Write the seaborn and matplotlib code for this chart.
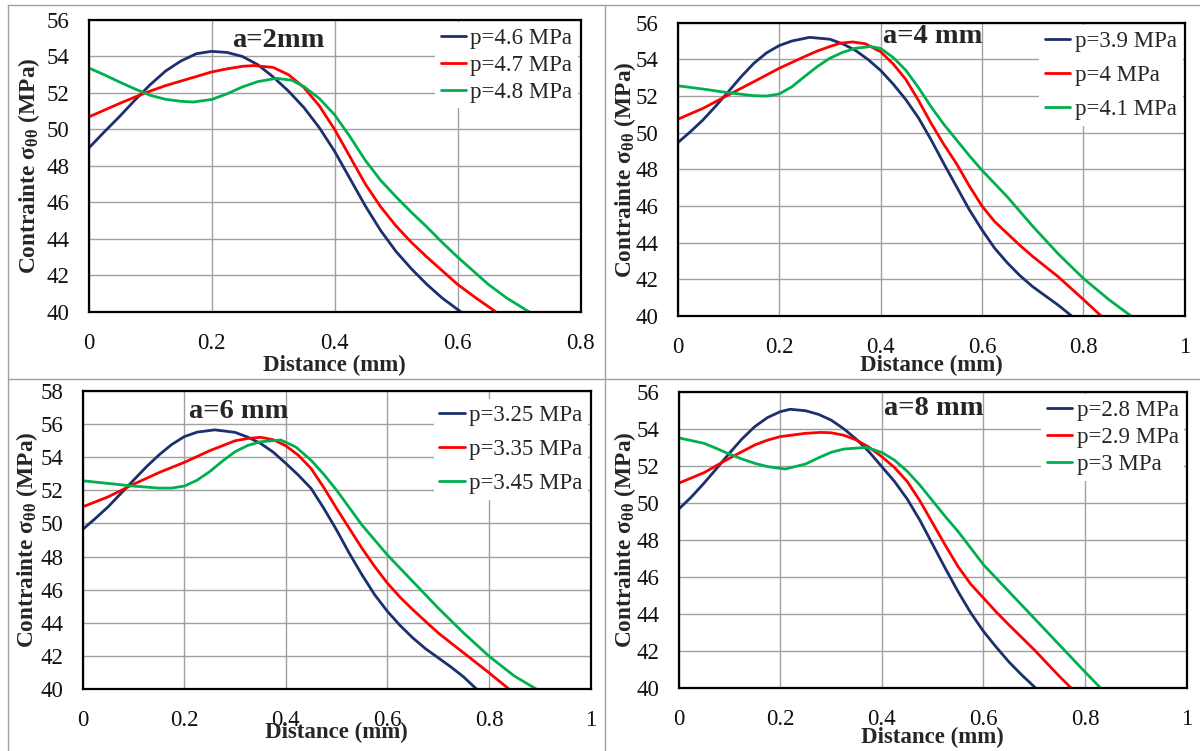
import matplotlib
matplotlib.use("Agg")
import matplotlib.pyplot as plt
import seaborn as sns
import pandas as pd
from matplotlib.lines import Line2D

# ---- data (distance in mm, stress in MPa) ----
# a = 2 mm
x_a2_p46 = [0, 0.025, 0.05, 0.075, 0.1, 0.125, 0.15, 0.175, 0.2, 0.225, 0.25, 0.275, 0.3,
            0.325, 0.35, 0.375, 0.4, 0.425, 0.45, 0.475, 0.5, 0.525, 0.55, 0.575, 0.605]
y_a2_p46 = [48.97, 49.85, 50.7, 51.6, 52.45, 53.2, 53.75, 54.15, 54.28, 54.22, 54.0, 53.55, 52.88,
            52.1, 51.2, 50.1, 48.8, 47.3, 45.8, 44.45, 43.3, 42.35, 41.5, 40.75, 40.0]
x_a2_p47 = [0, 0.025, 0.05, 0.075, 0.1, 0.125, 0.15, 0.175, 0.2, 0.225, 0.25, 0.268, 0.3, 0.325,
            0.35, 0.375, 0.4, 0.425, 0.45, 0.475, 0.5, 0.525, 0.55, 0.575, 0.6, 0.63, 0.662]
y_a2_p47 = [50.68, 51.05, 51.42, 51.77, 52.1, 52.4, 52.65, 52.9, 53.15, 53.32, 53.46, 53.5, 53.4, 53.0,
            52.3, 51.3, 50.0, 48.5, 47.0, 45.75, 44.7, 43.8, 43.0, 42.25, 41.5, 40.75, 40.0]
x_a2_p48 = [0, 0.025, 0.05, 0.075, 0.1, 0.125, 0.15, 0.17, 0.2, 0.225, 0.25, 0.275, 0.305, 0.33,
            0.35, 0.375, 0.4, 0.425, 0.45, 0.475, 0.5, 0.525, 0.55, 0.575, 0.6, 0.625, 0.65, 0.68, 0.716]
y_a2_p48 = [53.37, 53.0, 52.6, 52.22, 51.87, 51.65, 51.54, 51.5, 51.64, 51.95, 52.33, 52.62, 52.8, 52.7,
            52.35, 51.7, 50.8, 49.6, 48.3, 47.2, 46.3, 45.45, 44.65, 43.8, 43.0, 42.25, 41.5, 40.75, 40.0]

# a = 4 mm
x_a4_p39 = [0, 0.025, 0.05, 0.075, 0.1, 0.125, 0.15, 0.175, 0.2, 0.225, 0.26, 0.3, 0.325, 0.35,
            0.375, 0.4, 0.425, 0.45, 0.475, 0.5, 0.525, 0.55, 0.575, 0.6, 0.625, 0.65, 0.675, 0.7,
            0.725, 0.75, 0.777]
y_a4_p39 = [49.45, 50.05, 50.7, 51.45, 52.24, 53.05, 53.78, 54.35, 54.75, 55.0, 55.2, 55.1, 54.85, 54.5,
            54.0, 53.4, 52.65, 51.8, 50.8, 49.6, 48.3, 47.05, 45.8, 44.7, 43.7, 42.9, 42.2, 41.6,
            41.1, 40.6, 40.0]
x_a4_p40 = [0, 0.05, 0.1, 0.15, 0.2, 0.25, 0.275, 0.3, 0.32, 0.345, 0.37, 0.4, 0.425, 0.45, 0.475,
            0.5, 0.525, 0.55, 0.575, 0.6, 0.625, 0.65, 0.675, 0.7, 0.75, 0.8, 0.835]
y_a4_p40 = [50.73, 51.33, 52.06, 52.78, 53.51, 54.15, 54.45, 54.7, 54.88, 54.95, 54.85, 54.42, 53.75, 52.9, 51.75,
            50.5, 49.35, 48.3, 47.1, 46.0, 45.15, 44.5, 43.85, 43.25, 42.15, 40.9, 40.0]
x_a4_p41 = [0, 0.05, 0.1, 0.15, 0.175, 0.2, 0.225, 0.25, 0.275, 0.3, 0.325, 0.35, 0.38, 0.4, 0.425,
            0.45, 0.475, 0.5, 0.525, 0.55, 0.575, 0.6, 0.65, 0.7, 0.75, 0.8, 0.85, 0.894]
y_a4_p41 = [52.56, 52.38, 52.18, 52.02, 52.0, 52.11, 52.5, 53.06, 53.6, 54.06, 54.38, 54.6, 54.7, 54.6, 54.1,
            53.4, 52.45, 51.4, 50.45, 49.6, 48.75, 47.95, 46.5, 44.9, 43.4, 42.05, 40.9, 40.0]

# a = 6 mm
x_a6_p325 = [0, 0.025, 0.05, 0.075, 0.1, 0.125, 0.15, 0.175, 0.2, 0.225, 0.26, 0.3, 0.325, 0.35,
             0.375, 0.4, 0.425, 0.45, 0.475, 0.5, 0.525, 0.55, 0.575, 0.6, 0.625, 0.65, 0.675, 0.7,
             0.725, 0.75, 0.776]
y_a6_p325 = [49.64, 50.3, 51.0, 51.8, 52.6, 53.4, 54.12, 54.75, 55.23, 55.5, 55.64, 55.49, 55.2, 54.83,
             54.3, 53.62, 52.9, 52.1, 50.9, 49.6, 48.2, 46.9, 45.7, 44.7, 43.85, 43.1, 42.45, 41.9,
             41.35, 40.75, 40.0]
x_a6_p335 = [0, 0.05, 0.1, 0.15, 0.2, 0.25, 0.3, 0.325, 0.35, 0.375, 0.4, 0.425, 0.45, 0.475, 0.5,
             0.525, 0.55, 0.575, 0.6, 0.625, 0.65, 0.7, 0.75, 0.8, 0.84]
y_a6_p335 = [51.0, 51.6, 52.36, 53.06, 53.68, 54.38, 54.98, 55.12, 55.19, 55.05, 54.68, 54.1, 53.3, 52.15, 50.9,
             49.7, 48.5, 47.4, 46.4, 45.55, 44.8, 43.4, 42.2, 41.0, 40.0]
x_a6_p345 = [0, 0.05, 0.1, 0.15, 0.175, 0.2, 0.225, 0.25, 0.275, 0.3, 0.325, 0.35, 0.39, 0.42, 0.45,
             0.475, 0.5, 0.525, 0.55, 0.575, 0.6, 0.65, 0.7, 0.75, 0.8, 0.85, 0.894]
y_a6_p345 = [52.57, 52.41, 52.25, 52.13, 52.13, 52.25, 52.6, 53.12, 53.75, 54.32, 54.7, 54.92, 55.03, 54.6, 53.8,
             52.95, 52.0, 50.95, 49.9, 49.0, 48.1, 46.5, 44.9, 43.4, 42.0, 40.8, 40.0]

# a = 8 mm
x_a8_p28 = [0, 0.025, 0.05, 0.075, 0.1, 0.125, 0.15, 0.175, 0.2, 0.22, 0.25, 0.275, 0.3, 0.325,
            0.35, 0.375, 0.4, 0.425, 0.45, 0.475, 0.5, 0.525, 0.55, 0.575, 0.6, 0.625, 0.65, 0.675, 0.702]
y_a8_p28 = [49.64, 50.3, 51.05, 51.85, 52.67, 53.45, 54.11, 54.6, 54.92, 55.05, 54.97, 54.78, 54.47, 54.0,
            53.43, 52.75, 51.95, 51.15, 50.2, 49.05, 47.75, 46.45, 45.2, 44.05, 43.05, 42.2, 41.4, 40.7, 40.0]
x_a8_p29 = [0, 0.05, 0.1, 0.15, 0.175, 0.2, 0.25, 0.28, 0.3, 0.325, 0.35, 0.375, 0.4, 0.425, 0.45,
            0.475, 0.5, 0.525, 0.55, 0.575, 0.6, 0.625, 0.65, 0.7, 0.75, 0.772]
y_a8_p29 = [51.05, 51.62, 52.4, 53.12, 53.38, 53.57, 53.75, 53.8, 53.78, 53.65, 53.39, 53.0, 52.49, 51.9, 51.15,
            50.1, 48.9, 47.7, 46.55, 45.6, 44.85, 44.1, 43.4, 42.05, 40.6, 40.0]
x_a8_p30 = [0, 0.05, 0.075, 0.1, 0.125, 0.15, 0.175, 0.21, 0.25, 0.275, 0.3, 0.325, 0.37, 0.4, 0.425,
            0.45, 0.475, 0.5, 0.525, 0.55, 0.575, 0.6, 0.65, 0.7, 0.75, 0.8, 0.83]
y_a8_p30 = [53.51, 53.21, 52.93, 52.63, 52.36, 52.13, 51.95, 51.82, 52.09, 52.42, 52.72, 52.9, 52.99, 52.72, 52.3,
            51.7, 50.95, 50.1, 49.25, 48.45, 47.55, 46.65, 45.2, 43.75, 42.3, 40.85, 40.0]

colors = ["#1c2f6e", "#ff0000", "#00b050"]

panels = [
    {"title": "a=2mm", "labels": ["p=4.6 MPa", "p=4.7 MPa", "p=4.8 MPa"],
     "series": [(x_a2_p46, y_a2_p46), (x_a2_p47, y_a2_p47), (x_a2_p48, y_a2_p48)],
     "xmax": 0.8, "ymax": 56, "title_xy": (0.309, 54.9),
     "rect": (88.7, 20, 580.5, 311.7), "ylab_x": -0.122, "xlab_y": -0.183,
     "lspace": 0.25, "leg_top": 1.0},
    {"title": "a=4 mm", "labels": ["p=3.9 MPa", "p=4 MPa", "p=4.1 MPa"],
     "series": [(x_a4_p39, y_a4_p39), (x_a4_p40, y_a4_p40), (x_a4_p41, y_a4_p41)],
     "xmax": 1.0, "ymax": 56, "title_xy": (0.503, 55.24),
     "rect": (677.7, 22.7, 1184.8, 316), "ylab_x": -0.104, "xlab_y": -0.167,
     "lspace": 0.57, "leg_top": 1.0},
    {"title": "a=6 mm", "labels": ["p=3.25 MPa", "p=3.35 MPa", "p=3.45 MPa"],
     "series": [(x_a6_p325, y_a6_p325), (x_a6_p335, y_a6_p335), (x_a6_p345, y_a6_p345)],
     "xmax": 1.0, "ymax": 58, "title_xy": (0.308, 56.73),
     "rect": (82.7, 390.7, 590.5, 689.3), "ylab_x": -0.110, "xlab_y": -0.146,
     "lspace": 0.57, "leg_top": 0.98},
    {"title": "a=8 mm", "labels": ["p=2.8 MPa", "p=2.9 MPa", "p=3 MPa"],
     "series": [(x_a8_p28, y_a8_p28), (x_a8_p29, y_a8_p29), (x_a8_p30, y_a8_p30)],
     "xmax": 1.0, "ymax": 56, "title_xy": (0.503, 55.1),
     "rect": (678.5, 391.7, 1186.7, 687.7), "ylab_x": -0.105, "xlab_y": -0.167,
     "lspace": 0.27, "leg_top": 1.0},
]

sns.set_theme(style="whitegrid")
plt.rcParams["font.family"] = ["Liberation Serif", "DejaVu Serif"]
plt.rcParams["mathtext.fontset"] = "stix"

W, H = 1200, 751
fig = plt.figure(figsize=(W / 100, H / 100), dpi=100)
fig.patch.set_facecolor("white")

for p in panels:
    l, t, r, b = p["rect"]
    ax = fig.add_axes([l / W, 1 - b / H, (r - l) / W, (b - t) / H])

    rows = []
    for lab, (xs, ys) in zip(p["labels"], p["series"]):
        for xv, yv in zip(xs, ys):
            rows.append({"Distance": xv, "Contrainte": yv, "serie": lab})
    df = pd.DataFrame(rows)

    sns.lineplot(data=df, x="Distance", y="Contrainte", hue="serie",
                 palette=dict(zip(p["labels"], colors)), sort=False,
                 estimator=None, linewidth=2, legend=False, ax=ax)

    ax.set_xlim(0, p["xmax"])
    ax.set_ylim(40, p["ymax"])
    xt = [0, 0.2, 0.4, 0.6, 0.8] + ([1.0] if p["xmax"] == 1.0 else [])
    ax.set_xticks(xt)
    ax.set_xticklabels(["0" if v == 0 else ("1" if v == 1 else f"{v:.1f}") for v in xt])
    ax.set_yticks(range(40, p["ymax"] + 1, 2))

    ax.grid(True, color="#a0a0a0", linewidth=1)
    for s in ax.spines.values():
        s.set_color("black")
        s.set_linewidth(1.6)
    ax.tick_params(axis="both", direction="in", length=5, width=1, color="black",
                   labelsize=16.5, labelcolor="#111111")
    ax.tick_params(axis="x", pad=15)
    ax.tick_params(axis="y", pad=14)

    ax.set_xlabel("Distance (mm)", fontsize=16.5, fontweight="bold", va="center")
    ax.xaxis.set_label_coords(0.5, p["xlab_y"])
    ax.set_ylabel("Contrainte σ$_{\\mathregular{θθ}}$ (MPa)", fontsize=16.8,
                  fontweight="bold", va="center")
    ax.yaxis.set_label_coords(p["ylab_x"], 0.5)

    ax.text(p["title_xy"][0], p["title_xy"][1], p["title"], fontsize=20.5,
            fontweight="bold", ha="center", va="center")

    handles = [Line2D([], [], color=c, linewidth=2) for c in colors]
    ax.legend(handles, p["labels"], loc="upper right", bbox_to_anchor=(1.0, p["leg_top"]),
              fontsize=16.5, frameon=True, framealpha=1, facecolor="white",
              edgecolor="none", handlelength=1.1, handletextpad=0.2,
              labelspacing=p["lspace"], borderpad=0.25, borderaxespad=0.1,
              fancybox=False)

# table borders around the four panels
grey = "#a0a0a0"
for (x0, y0, x1, y1) in [(8, 5, 1200, 5), (8, 379, 1200, 379),
                         (8, 5, 8, 751), (605, 5, 605, 751)]:
    fig.add_artist(Line2D([x0 / W, x1 / W], [1 - y0 / H, 1 - y1 / H],
                          transform=fig.transFigure, color=grey, linewidth=1))

fig.savefig("out.png", dpi=100)
